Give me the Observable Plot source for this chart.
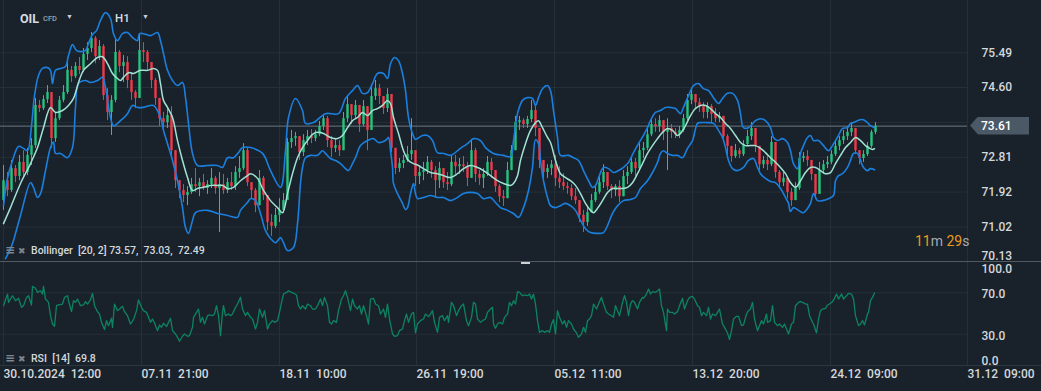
<!DOCTYPE html>
<html><head><meta charset="utf-8">
<script src="https://cdn.jsdelivr.net/npm/d3@7"></script>
<script src="https://cdn.jsdelivr.net/npm/@observablehq/plot@0.6"></script>
<style>
html,body{margin:0;padding:0;background:#19222a;}
#wrap{position:relative;width:1041px;height:391px;overflow:hidden;background:#19222a;font-family:Roboto,"Noto Sans",sans-serif;}
#wrap svg{position:absolute;left:0;}
#wrap svg text{white-space:pre;}
.ov{position:absolute;white-space:pre;line-height:1;transform:translateY(-50%);}
</style></head><body><div id="wrap"></div>
<script>
// ---------- DATA ----------
const symbol = "OIL", symbolType = "CFD", timeframe = "H1";
const firstOpen = 71.70;
const closes = [
72.21,71.96,72.52,72.32,72.68,72.42,72.86,73.11,74.14,74.06,
74.29,74.47,73.29,73.80,74.27,74.47,75.04,74.88,75.14,75.04,
75.45,75.60,75.86,75.39,75.65,74.39,73.96,74.27,75.50,75.14,
75.24,74.78,74.47,74.32,75.55,75.50,75.24,74.78,74.32,73.80,
73.70,73.88,72.98,72.21,71.96,71.83,71.91,72.11,72.06,72.16,
72.01,72.11,72.27,72.01,72.11,71.96,72.16,72.06,72.42,72.52,
72.98,72.16,71.96,71.57,72.27,71.83,71.14,71.04,71.32,71.45,
71.70,73.19,73.29,73.34,72.93,73.24,73.34,73.29,73.39,73.60,
73.80,73.24,73.04,73.11,72.98,73.80,74.16,73.88,74.14,73.65,
74.11,73.50,74.37,74.57,74.37,74.06,74.42,73.04,72.52,72.65,
72.73,72.88,72.98,72.32,72.42,72.47,72.68,72.47,72.21,72.52,
72.16,72.11,72.68,72.57,72.62,72.57,72.27,72.98,72.37,72.27,
72.37,72.68,72.47,72.06,71.80,71.75,72.47,72.98,73.70,73.75,
73.65,73.78,74.01,73.55,72.73,72.42,72.52,72.62,72.27,72.16,
72.06,72.01,71.80,71.70,71.32,71.14,71.39,71.70,71.91,72.16,
72.42,72.06,71.96,72.06,71.80,72.32,72.42,72.68,72.52,72.98,
73.04,73.39,73.65,73.60,73.75,73.45,73.55,73.45,73.39,73.50,
73.80,74.27,74.42,74.21,74.11,73.96,74.11,73.91,73.80,73.86,
73.34,73.09,72.83,72.98,72.88,73.14,73.34,73.55,73.09,72.62,
72.73,72.62,73.19,72.42,72.16,72.27,71.91,71.70,72.01,72.78,
72.83,72.73,72.37,71.86,72.47,72.62,72.68,72.88,73.09,73.24,
73.34,73.45,73.55,72.98,72.78,72.88,73.09,73.45,73.61];
const highs = [
72.60,72.42,72.73,72.60,72.86,72.98,73.04,73.29,74.32,74.27,
74.39,74.65,74.47,73.96,74.37,74.65,75.24,75.14,75.24,75.37,
75.60,75.75,76.01,75.91,75.80,75.70,74.57,74.39,75.86,75.55,
75.42,75.39,74.98,74.52,75.98,75.75,75.55,75.24,74.83,74.32,
73.96,74.06,74.11,72.98,72.21,72.11,72.06,72.27,72.52,72.27,
72.37,72.21,72.52,72.32,72.42,72.37,72.27,72.42,72.57,72.83,
73.16,73.04,72.16,72.01,72.47,72.32,71.83,71.34,71.50,71.75,
71.88,73.29,73.50,73.45,73.34,73.39,73.50,73.52,73.50,73.73,
73.91,73.86,73.34,73.29,73.24,73.96,74.37,74.16,74.27,74.14,
74.27,74.11,74.68,74.78,74.68,74.37,74.57,74.42,73.04,72.78,
72.86,73.09,73.80,72.98,72.57,72.68,72.83,72.73,72.57,72.68,
72.52,72.42,72.83,72.86,72.78,72.83,72.68,73.24,73.04,72.47,
72.52,72.83,72.78,72.47,72.11,71.96,72.68,73.11,73.86,73.86,
73.80,73.86,74.27,74.11,73.55,72.73,72.62,72.73,72.86,72.57,
72.39,72.16,72.11,72.01,71.70,71.45,71.55,71.86,72.06,72.32,
72.62,72.42,72.11,72.11,72.21,72.47,72.57,72.83,72.78,73.16,
73.19,73.60,73.80,73.80,73.88,73.75,73.80,73.65,73.55,73.60,
73.91,74.42,74.57,74.42,74.32,74.21,74.21,74.16,74.06,73.96,
73.86,73.39,73.09,73.14,73.04,73.24,73.50,73.70,73.55,73.09,
72.83,72.83,73.34,73.19,72.47,72.42,72.27,72.01,72.16,72.93,
72.93,72.98,72.73,72.37,72.68,72.73,72.83,72.98,73.24,73.34,
73.50,73.60,73.70,73.55,72.98,72.98,73.19,73.50,73.70];
const lows = [
71.45,71.80,71.91,72.16,72.21,72.27,72.34,72.60,73.04,73.96,
74.01,74.19,73.04,73.19,73.75,74.21,74.42,74.73,74.83,74.93,
74.98,75.29,75.50,75.21,75.29,74.27,73.75,73.37,74.21,74.98,
74.73,74.57,74.27,74.06,74.32,75.24,75.04,74.57,74.14,73.60,
73.50,73.55,72.78,72.01,71.75,71.65,71.57,71.86,71.91,71.80,
71.96,71.86,72.01,71.86,70.88,71.86,71.88,71.96,71.96,72.27,
72.47,72.06,71.75,71.39,71.57,71.70,70.93,70.78,70.98,71.14,
71.37,71.70,73.04,73.09,72.73,72.83,73.11,73.16,73.21,73.34,
73.50,73.06,72.80,72.93,72.83,72.98,73.70,73.65,73.80,73.45,
73.60,72.98,73.50,74.27,74.16,73.91,73.96,72.93,72.37,72.42,
72.52,72.68,72.73,72.06,72.11,72.21,72.37,72.27,71.80,72.01,
72.01,71.96,72.06,72.37,72.37,72.42,72.06,72.27,72.16,72.09,
72.01,72.32,72.27,71.91,71.65,71.55,71.75,72.47,72.98,73.50,
73.55,73.55,73.70,73.34,72.52,72.27,72.27,72.34,72.06,72.01,
71.96,71.86,71.70,71.60,71.14,70.88,71.04,71.39,71.65,71.86,
72.01,71.96,71.75,71.80,71.65,71.80,72.11,72.37,72.32,72.47,
72.78,72.98,73.34,73.45,73.45,73.24,72.47,73.29,73.29,73.29,
73.45,73.75,74.16,74.06,73.96,73.80,73.80,73.70,73.70,73.70,
73.19,72.83,72.68,72.78,72.78,72.83,73.09,73.24,72.93,72.47,
72.52,72.47,72.57,72.27,72.06,72.06,71.75,71.55,71.70,71.96,
72.68,72.57,72.21,71.73,71.86,72.42,72.52,72.62,72.83,72.98,
73.14,73.24,73.34,72.88,72.62,72.68,72.83,73.04,73.39];
const barsPerCandle = 4;

// Bollinger [20, 2] bands: [bar, price]
const bbParams = [20, 2];
const upperBand = [[0,71.57],[4,72.27],[9,72.73],[15,73.09],[20,73.04],[24,72.98],[28,73.62],[31,74.39],[35,74.91],[39,75.09],[44,75.11],[47,75.04],[49,74.70],[52,75.04],[57,75.09],[62,75.14],[65,75.42],[69,75.70],[73,75.55],[77,75.52],[82,75.55],[85,75.73],[89,75.96],[93,76.06],[97,76.32],[102,76.52],[107,76.37],[110,75.98],[114,75.80],[119,75.98],[124,76.01],[129,75.88],[134,75.80],[136,75.98],[140,75.98],[147,75.93],[154,76.01],[157,75.80],[160,75.47],[164,75.04],[169,74.78],[174,74.65],[179,74.73],[182,74.34],[185,73.68],[189,72.91],[194,72.60],[204,72.60],[214,72.60],[219,72.55],[224,72.80],[230,72.80],[235,72.93],[239,73.06],[247,73.06],[259,72.91],[267,72.47],[277,72.04],[282,72.98],[285,73.83],[292,74.32],[299,74.01],[302,73.68],[310,73.70],[322,73.93],[335,73.93],[342,74.32],[349,74.52],[354,74.65],[359,74.45],[364,74.47],[369,74.70],[374,74.96],[380,74.96],[384,74.83],[387,75.21],[391,75.37],[395,75.29],[399,74.96],[402,74.52],[405,73.83],[409,73.42],[412,73.27],[419,73.37],[424,73.37],[429,73.24],[434,72.93],[440,72.91],[447,72.86],[457,73.04],[464,73.16],[470,73.29],[477,73.24],[482,73.06],[490,72.91],[500,72.86],[507,72.83],[510,73.24],[514,73.93],[519,74.27],[524,74.34],[529,74.32],[532,74.14],[535,74.34],[539,74.57],[544,74.65],[547,74.52],[550,74.01],[554,73.32],[557,72.86],[565,72.86],[570,72.80],[575,72.73],[580,72.47],[585,72.21],[589,72.04],[592,72.09],[597,72.42],[600,72.55],[605,72.52],[610,72.42],[615,72.47],[620,72.55],[625,72.68],[630,72.93],[635,73.16],[640,73.37],[644,73.57],[647,73.75],[652,73.96],[657,74.01],[662,74.09],[667,74.09],[672,74.06],[677,73.93],[680,74.09],[685,74.39],[690,74.65],[695,74.70],[700,74.57],[705,74.52],[710,74.34],[715,74.19],[719,74.32],[724,74.45],[729,74.45],[734,74.27],[737,73.93],[740,73.57],[745,73.57],[752,73.75],[757,73.80],[762,73.75],[767,73.57],[770,73.32],[774,73.24],[779,73.29],[784,73.19],[787,72.98],[790,72.65],[794,72.52],[797,72.91],[800,73.11],[804,73.32],[807,73.37],[810,73.24],[815,73.24],[820,73.11],[825,72.98],[829,73.11],[832,73.24],[835,73.37],[839,73.55],[844,73.57],[847,73.68],[850,73.70],[854,73.75],[859,73.78],[864,73.70],[867,73.62],[871,73.57]];
const middleBand = [[0,71.11],[7,71.52],[17,72.14],[27,72.65],[34,73.06],[40,73.57],[47,74.09],[52,73.96],[59,74.01],[65,74.14],[70,74.32],[75,74.73],[80,75.04],[87,75.21],[94,75.37],[99,75.39],[104,75.21],[109,74.96],[114,74.83],[117,74.78],[120,74.86],[125,74.98],[130,74.96],[137,75.04],[144,75.04],[150,75.09],[154,75.04],[157,74.70],[160,74.27],[164,74.09],[169,73.83],[174,73.24],[179,72.73],[184,72.29],[189,71.96],[194,72.01],[200,72.04],[207,72.09],[214,72.09],[219,72.09],[224,72.01],[230,72.04],[237,72.21],[244,72.34],[247,72.39],[254,72.27],[260,71.96],[267,71.70],[274,71.52],[279,71.39],[284,71.88],[289,72.39],[294,72.80],[299,73.06],[304,73.24],[310,73.42],[315,73.45],[320,73.42],[327,73.32],[334,73.29],[339,73.37],[344,73.57],[349,73.75],[354,73.83],[359,73.96],[364,73.88],[369,74.01],[374,74.06],[379,74.14],[384,74.27],[387,74.19],[390,73.83],[395,73.42],[400,72.98],[405,72.73],[410,72.65],[415,72.60],[420,72.52],[427,72.42],[434,72.39],[440,72.34],[447,72.29],[454,72.39],[460,72.52],[467,72.60],[474,72.55],[480,72.47],[487,72.34],[494,72.21],[500,72.14],[507,72.09],[510,72.14],[514,72.34],[517,72.73],[522,73.16],[527,73.50],[532,73.70],[535,73.75],[539,73.57],[544,73.32],[547,73.19],[552,72.73],[557,72.39],[562,72.29],[567,72.21],[572,72.09],[577,71.88],[582,71.63],[587,71.45],[590,71.39],[594,71.50],[599,71.70],[604,71.91],[609,72.01],[614,72.01],[619,72.01],[624,72.04],[629,72.16],[634,72.39],[639,72.65],[644,72.91],[649,73.11],[654,73.29],[659,73.45],[664,73.55],[669,73.50],[674,73.37],[677,73.42],[682,73.62],[687,73.88],[692,74.06],[697,74.14],[702,74.14],[707,74.06],[712,73.93],[717,73.83],[722,73.68],[727,73.55],[732,73.37],[737,73.19],[742,73.11],[747,73.11],[752,73.11],[757,73.04],[762,72.93],[767,72.80],[772,72.68],[777,72.55],[782,72.39],[787,72.16],[792,72.04],[797,72.21],[802,72.42],[807,72.55],[812,72.55],[817,72.47],[822,72.39],[827,72.42],[832,72.65],[837,72.86],[842,73.06],[847,73.19],[852,73.32],[857,73.24],[862,73.11],[865,73.06],[869,73.01],[871,73.03]];
const lowerBand = [[2,70.21],[7,70.47],[10,70.68],[17,71.32],[27,72.16],[30,72.04],[34,71.78],[37,71.88],[42,72.47],[47,73.06],[50,73.20],[52,72.91],[57,72.91],[64,72.80],[69,73.06],[72,74.09],[75,74.70],[82,74.78],[87,74.73],[94,74.78],[99,74.86],[102,74.60],[107,73.83],[110,73.62],[117,73.75],[124,73.93],[129,74.14],[134,74.09],[140,74.09],[150,74.14],[157,73.83],[160,73.50],[164,73.16],[169,72.73],[174,72.21],[179,71.52],[182,71.01],[185,70.86],[189,71.19],[192,71.39],[204,71.45],[214,71.37],[224,71.32],[234,71.27],[237,71.45],[244,71.65],[247,71.75],[252,71.70],[257,71.37],[262,70.93],[267,70.73],[272,70.62],[277,70.75],[280,70.62],[284,70.42],[290,70.50],[294,71.11],[297,72.14],[299,72.55],[302,72.80],[307,72.86],[314,72.86],[319,72.98],[322,72.91],[327,72.78],[332,72.73],[337,72.65],[342,72.52],[345,72.47],[349,72.65],[352,72.80],[357,73.11],[364,73.24],[370,73.29],[375,73.19],[382,73.24],[385,73.32],[387,72.98],[389,72.55],[390,72.14],[394,71.88],[399,71.63],[402,71.47],[404,71.52],[407,71.88],[410,72.14],[412,71.88],[414,71.75],[420,71.78],[427,71.83],[434,71.78],[440,71.78],[447,71.70],[454,71.78],[460,71.88],[467,71.91],[474,71.88],[480,71.75],[487,71.78],[492,71.65],[497,71.52],[504,71.45],[510,71.37],[515,71.27],[520,71.52],[525,71.96],[529,72.55],[532,73.26],[535,73.16],[537,72.73],[540,72.21],[544,71.78],[547,71.57],[552,71.52],[557,71.57],[562,71.63],[567,71.57],[572,71.45],[577,71.19],[582,70.98],[587,70.88],[595,70.86],[600,70.88],[604,71.06],[609,71.37],[614,71.57],[620,71.70],[627,71.73],[632,71.78],[637,72.01],[644,72.21],[649,72.42],[654,72.68],[657,72.91],[660,72.98],[664,72.91],[669,72.86],[674,72.86],[679,72.80],[684,73.04],[689,73.24],[694,73.68],[697,73.70],[704,73.70],[710,73.68],[715,73.50],[719,73.32],[722,73.06],[725,72.73],[729,72.52],[734,72.47],[740,72.55],[745,72.73],[750,72.78],[754,72.55],[757,72.39],[762,72.27],[767,72.19],[772,72.16],[777,72.01],[782,71.78],[785,71.63],[787,71.42],[790,71.52],[795,71.45],[800,71.39],[804,71.50],[807,71.63],[810,71.88],[814,71.70],[819,71.70],[825,71.75],[830,71.83],[832,72.21],[835,72.34],[839,72.39],[844,72.55],[847,72.73],[850,72.91],[854,72.91],[857,72.73],[860,72.55],[864,72.47],[867,72.52],[871,72.49]];

// RSI [14]: [bar, value]
const rsiPeriod = 14;
const rsi = [[0,57.5],[4,68.7],[5,60.7],[9,67.1],[12,62.3],[15,64.6],[18,55.9],[20,57.5],[23,65.5],[25,67.1],[28,58.2],[29,76.1],[32,74.2],[34,70.3],[37,71.9],[39,68.7],[40,76.1],[42,63.9],[45,60.7],[47,47.9],[49,39.9],[51,37.7],[53,57.5],[55,58.2],[59,59.1],[61,65.5],[64,67.1],[65,62.3],[68,51.8],[70,62.3],[72,60.7],[74,63.9],[77,57.5],[80,58.2],[82,61.4],[84,59.1],[87,63.3],[89,69.4],[91,57.5],[94,51.8],[96,49.5],[98,41.5],[101,34.5],[103,43.1],[105,38.3],[108,45.4],[109,36.7],[111,59.1],[114,52.7],[116,54.3],[119,56.9],[121,51.8],[124,47.9],[127,39.9],[130,44.1],[133,52.7],[135,63.0],[138,55.9],[140,52.7],[143,51.1],[145,46.3],[147,41.5],[149,44.7],[151,40.9],[154,33.5],[156,39.0],[158,36.7],[160,40.6],[163,37.4],[165,41.5],[167,45.4],[169,33.5],[172,30.3],[174,27.1],[176,23.3],[179,28.1],[181,30.3],[184,28.1],[186,28.7],[189,36.7],[190,46.3],[193,51.1],[195,54.3],[197,41.5],[199,46.3],[201,39.9],[204,47.9],[206,48.6],[209,47.9],[211,49.5],[213,57.5],[215,47.9],[217,28.7],[219,51.1],[220,57.5],[222,47.9],[225,49.5],[227,47.9],[229,49.5],[232,55.9],[234,59.1],[237,65.5],[239,54.3],[242,47.9],[244,51.1],[247,46.3],[249,44.7],[252,35.1],[254,41.5],[256,54.3],[259,46.3],[261,52.7],[264,35.1],[266,39.9],[269,43.1],[271,41.5],[274,43.1],[276,51.1],[278,60.7],[280,68.7],[283,70.3],[285,71.9],[288,70.3],[290,69.7],[293,67.8],[295,57.5],[297,54.3],[299,57.5],[302,54.3],[304,59.1],[307,57.5],[309,54.3],[312,54.3],[314,57.5],[317,63.9],[319,57.5],[321,65.5],[324,57.5],[326,41.5],[328,39.9],[330,43.1],[333,41.5],[335,52.7],[338,63.9],[340,67.1],[342,71.9],[344,65.5],[347,52.7],[349,63.9],[351,57.5],[354,54.3],[356,57.5],[358,49.5],[360,57.5],[363,47.9],[365,39.9],[367,63.9],[370,64.6],[372,59.1],[375,57.5],[377,49.5],[380,54.3],[382,46.3],[384,59.1],[386,44.7],[389,30.3],[391,28.1],[394,28.7],[396,33.5],[399,35.1],[401,43.1],[403,49.5],[405,41.5],[408,49.5],[410,51.1],[412,31.3],[414,39.9],[417,43.1],[420,44.7],[422,49.5],[425,47.0],[427,49.5],[429,52.7],[431,41.5],[434,31.9],[436,46.3],[439,47.9],[441,43.1],[444,47.9],[445,41.5],[448,60.7],[450,57.5],[453,47.9],[455,52.7],[458,57.5],[460,59.1],[463,43.1],[465,38.3],[468,46.3],[470,60.7],[472,59.1],[474,44.7],[477,41.5],[479,43.1],[482,44.7],[484,51.1],[487,54.3],[489,55.9],[490,39.9],[492,35.8],[494,39.9],[496,41.5],[499,39.9],[501,46.3],[504,49.5],[506,60.7],[508,57.5],[510,62.3],[512,59.1],[514,71.0],[516,70.3],[519,67.1],[521,67.8],[524,67.1],[526,68.7],[528,63.9],[530,68.7],[532,59.1],[534,43.1],[536,31.9],[539,33.5],[541,31.9],[544,33.5],[546,31.9],[548,39.9],[550,44.1],[552,30.3],[554,52.7],[556,46.3],[559,39.9],[561,43.1],[563,36.7],[565,43.1],[568,39.9],[570,35.1],[573,31.3],[575,27.1],[578,30.3],[580,36.7],[582,31.9],[584,43.1],[586,44.7],[588,47.9],[590,59.1],[593,54.3],[595,59.1],[598,65.5],[600,59.1],[603,51.1],[605,49.5],[608,47.9],[610,46.3],[612,57.5],[614,52.7],[616,47.9],[619,60.7],[621,67.1],[623,60.7],[625,47.9],[627,59.1],[629,62.3],[631,60.7],[634,54.3],[636,60.7],[639,65.5],[640,64.6],[643,68.7],[645,73.5],[647,68.7],[649,71.0],[652,70.3],[654,71.9],[656,73.5],[658,57.5],[660,51.1],[663,33.5],[664,54.3],[666,51.1],[669,51.1],[671,49.5],[674,51.8],[676,57.5],[679,64.6],[681,54.3],[684,62.3],[686,65.5],[689,66.5],[691,63.9],[694,57.5],[696,55.9],[698,47.9],[700,51.1],[703,47.9],[705,55.9],[707,44.7],[709,49.5],[712,47.9],[714,51.1],[716,54.3],[719,39.9],[721,36.7],[724,31.3],[726,24.9],[728,33.5],[730,44.7],[733,47.3],[735,47.3],[738,38.3],[740,39.0],[743,49.5],[745,52.7],[747,54.3],[749,60.7],[751,44.7],[754,33.5],[756,38.3],[758,43.1],[760,39.9],[763,49.5],[764,41.5],[767,43.1],[769,57.5],[771,41.5],[774,38.3],[776,39.9],[779,36.7],[781,39.9],[783,35.1],[785,30.3],[788,39.9],[790,41.5],[792,57.5],[795,60.7],[797,61.4],[799,60.7],[802,59.1],[804,59.1],[806,47.9],[809,41.5],[810,39.9],[813,31.3],[815,44.7],[817,52.7],[819,54.3],[822,55.0],[824,58.2],[826,59.1],[829,61.4],[831,64.6],[833,68.7],[835,63.9],[838,68.7],[840,63.9],[843,67.1],[845,69.4],[848,68.7],[850,63.9],[852,47.9],[855,38.3],[857,39.9],[859,43.1],[861,39.0],[864,49.5],[865,51.1],[867,62.3],[869,65.5],[871,69.8]];

// Axes
const priceTicks = [70.13, 71.02, 71.92, 72.81, 73.70, 74.60, 75.49];
const hiddenPriceTick = 73.70; // covered by the last-price badge
const rsiTicks = [0, 30, 70, 100];
const timeTicks = [0, 138, 276, 413, 551, 689, 827, 964];
const timeLabels = ["30.10.2024  12:00", "07.11  21:00", "18.11  10:00", "26.11  19:00", "05.12  11:00", "13.12  20:00", "24.12  09:00", "31.12  09:00"];
const countdown = ["11", "m", " 29", "s"];

// ---------- STYLE ----------
const GRID = "#252f37", TXT = "#d4d8dc", UP = "#27c47f", DOWN = "#f2394b";
const BLUE = "#1b7fde", MID = "#a2e2d4", RSI_C = "#0c8461";

const candles = closes.map((c, i) => ({
  bar: i * barsPerCandle, open: i ? closes[i - 1] : firstOpen, close: c, high: highs[i], low: lows[i]
}));
const lastClose = closes[closes.length - 1];
const cColor = d => d.close >= d.open ? UP : DOWN;
const fmtT = d => timeLabels[timeTicks.indexOf(d)];
const common = {width: 1041, marginLeft: 0, marginRight: 74,
  style: {background: "transparent", color: TXT, fontFamily: "Roboto, sans-serif", fontSize: "12px", overflow: "visible"}};
const labelled = priceTicks.filter(t => t !== hiddenPriceTick);

const main = Plot.plot({
  ...common, height: 262, marginTop: 0, marginBottom: 0,
  x: {domain: [-3, 964], axis: null},
  y: {domain: [70.113, 76.831], axis: null},
  color: {type: "identity"},
  marks: [
    Plot.ruleX(timeTicks, {stroke: GRID}),
    Plot.ruleY(priceTicks, {stroke: GRID}),
    Plot.ruleY([lastClose], {stroke: "#6c7882"}),
    Plot.ruleX(candles, {x: "bar", y1: "low", y2: "high", stroke: cColor, strokeWidth: 1}),
    Plot.ruleX(candles, {x: "bar", y1: "open", y2: "close", stroke: cColor, strokeWidth: 2.4}),
    Plot.line(upperBand, {x: d => d[0], y: d => d[1], stroke: BLUE, strokeWidth: 1.6, curve: "catmull-rom"}),
    Plot.line(lowerBand, {x: d => d[0], y: d => d[1], stroke: BLUE, strokeWidth: 1.6, curve: "catmull-rom"}),
    Plot.line(middleBand, {x: d => d[0], y: d => d[1], stroke: MID, strokeWidth: 1.5, curve: "catmull-rom"}),
    Plot.axisY(labelled.slice(1), {anchor: "right", tickSize: 0, tickPadding: 14, label: null, tickFormat: d => d.toFixed(2), fill: TXT, fontWeight: 500, fontSize: 12}),
    Plot.axisY(labelled.slice(0, 1), {anchor: "right", tickSize: 0, tickPadding: 14, label: null, tickFormat: d => d.toFixed(2), fill: TXT, fontWeight: 500, fontSize: 12, dy: -6})
  ]
});

const rsiChart = Plot.plot({
  ...common, height: 133, marginTop: 3, marginBottom: 26,
  x: {domain: [-3, 964], axis: null},
  y: {domain: [0, 100], axis: null},
  marks: [
    Plot.ruleX(timeTicks, {stroke: GRID}),
    Plot.ruleY([30, 70], {stroke: GRID}),
    Plot.line(rsi, {x: d => d[0], y: d => d[1], stroke: RSI_C, strokeWidth: 1.3}),
    Plot.axisY([30, 70], {anchor: "right", tickSize: 0, tickPadding: 14, label: null, tickFormat: d => d.toFixed(1), fill: TXT, fontWeight: 500, fontSize: 12, dy: 1.5}),
    Plot.axisY([100], {anchor: "right", tickSize: 0, tickPadding: 14, label: null, tickFormat: d => d.toFixed(1), fill: TXT, fontWeight: 500, fontSize: 12, dy: 8}),
    Plot.axisY([0], {anchor: "right", tickSize: 0, tickPadding: 14, label: null, tickFormat: d => d.toFixed(1), fill: TXT, fontWeight: 500, fontSize: 12, dy: -4}),
    Plot.text(timeTicks, {x: d => d, text: fmtT, frameAnchor: "bottom", textAnchor: "start", lineAnchor: "middle", dy: 9, fill: TXT, fontWeight: 500, fontSize: 12})
  ]
});

const wrap = document.getElementById("wrap");
main.style.top = "0px"; wrap.append(main);
const RSI_TOP = 258;
rsiChart.style.top = RSI_TOP + "px"; wrap.append(rsiChart);

function ov(html, left, cy, css = "") {
  const d = document.createElement("div");
  d.className = "ov"; d.innerHTML = html;
  d.style.cssText += `left:${left}px;top:${cy}px;${css}`;
  wrap.append(d); return d;
}
function line(top, left, width, h, color) {
  const d = document.createElement("div");
  d.style.cssText = `position:absolute;left:${left}px;top:${top}px;width:${width}px;height:${h}px;background:${color};`;
  wrap.append(d);
}
const ry = rsiChart.scale("y"), py = main.scale("y");
line(Math.round(RSI_TOP + ry.apply(100)) - 0.5, 0, 1041, 1, "#4f5961");
line(Math.round(RSI_TOP + ry.apply(100)) + 0.5, 521, 9, 2, "#cdd1d4");
line(Math.round(RSI_TOP + ry.apply(0)) - 0.5, 0, 1041, 1, "#2c363e");

// price badge
const by = py.apply(lastClose);
const b = document.createElement("div");
b.style.cssText = `position:absolute;left:970px;top:${by - 9}px;width:59px;height:18px;background:#4a5965;clip-path:polygon(0 50%,8px 0,100% 0,100% 100%,8px 100%);`;
wrap.append(b);
ov(lastClose.toFixed(2), 981, by + 0.5, "color:#ffffff;font-size:12px;font-weight:500;");

// header
ov(symbol, 20, 18.5, "color:#d9dde1;font-size:12.5px;font-weight:700;");
ov(symbolType, 43, 19, "color:#9aa3ab;font-size:7.5px;font-weight:500;");
ov("\u25BC", 66, 16.5, "color:#c9ced3;font-size:7px;");
ov(timeframe, 115, 19, "color:#d9dde1;font-size:11.5px;font-weight:500;");
ov("\u25BC", 142, 16.5, "color:#c9ced3;font-size:7px;");

// countdown
ov(`<span style="color:#e99a1e">${countdown[0]}</span><span style="color:#a3abb2">${countdown[1]}</span><span style="color:#e99a1e">${countdown[2]}</span><span style="color:#a3abb2">${countdown[3]}</span>`,
   915, 240.5, "font-size:14px;font-weight:400;");

// indicator legends
const icons = `<span style="color:#7d868e;font-size:12px;font-weight:700;font-family:'DejaVu Sans'">\u2261</span><span style="color:#7d868e;font-size:9px;font-family:'DejaVu Sans';margin-left:3px">\u2716</span>`;
ov(icons, 5, 248.5);
const bbLast = [upperBand, middleBand, lowerBand].map(a => a[a.length - 1][1].toFixed(2));
ov(`Bollinger  [${bbParams.join(", ")}] ${bbLast.join(",  ")}`, 31, 250.7, "color:#d4d8dc;font-size:10.5px;font-weight:500;");
ov(icons, 5, 356.5);
ov(`RSI  [${rsiPeriod}]  ${rsi[rsi.length - 1][1].toFixed(1)}`, 31, 359.3, "color:#d4d8dc;font-size:10.5px;font-weight:500;");
</script></body></html>
